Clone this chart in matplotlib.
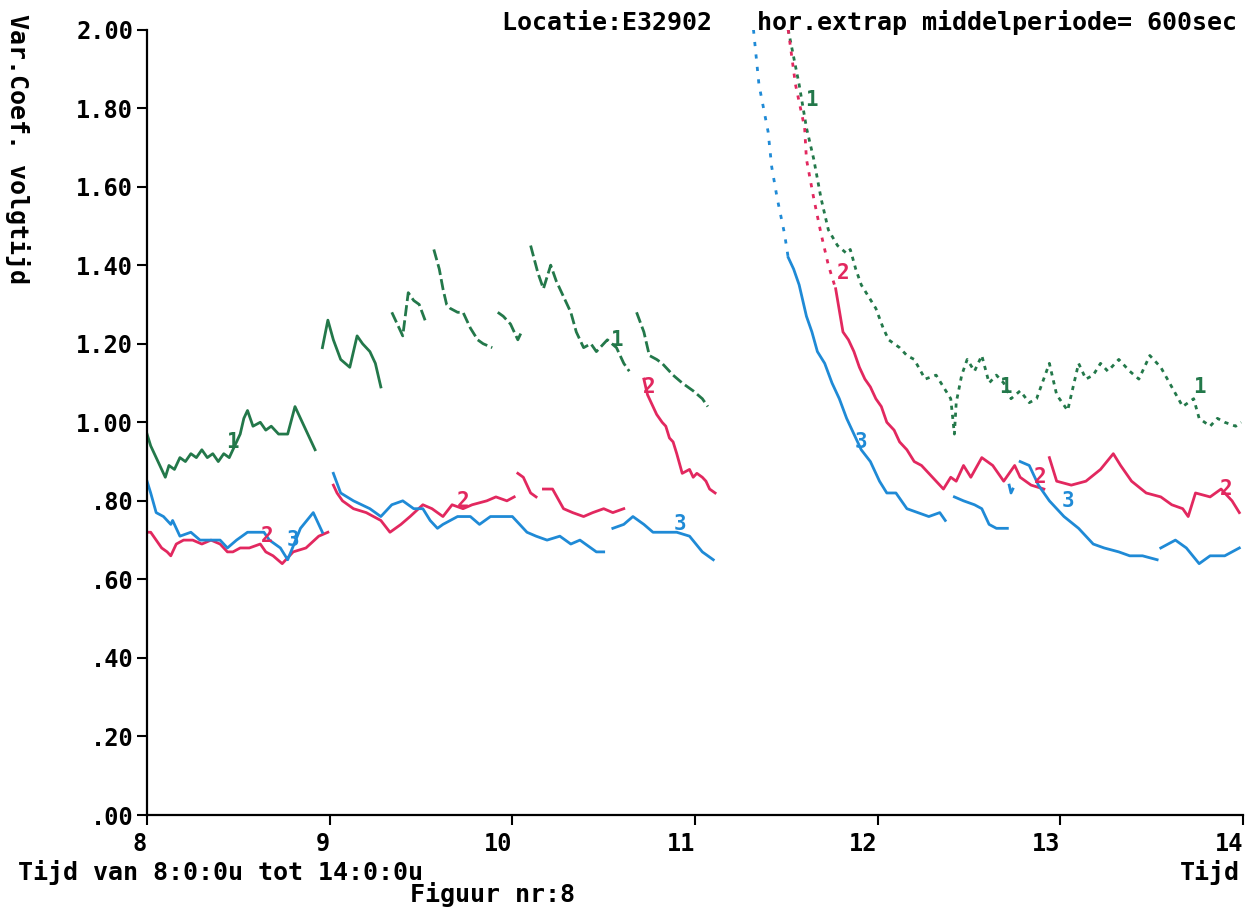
import numpy as np
import matplotlib.pyplot as plt

nan = np.nan

# kleuren van de drie reeksen
groen = "#23784a"
rood = "#e2285f"
blauw = "#1f8ad6"

# ---- reeks 1 (groen), ochtend, getrokken lijn
g1_t = [8.00, 8.02, 8.05, 8.08, 8.10, 8.12, 8.15, 8.18, 8.21, 8.24, 8.27, 8.30, 8.33, 8.36, 8.39,
        8.42, 8.45, 8.47, 8.51, 8.53, 8.55, 8.58, 8.62, 8.65, 8.68, 8.72, 8.77, 8.81, 8.86, 8.92, nan,
        8.96, 8.99, 9.02, 9.06, 9.11, 9.15, 9.18, 9.22, 9.25, 9.28]
g1_v = [0.97, 0.94, 0.91, 0.88, 0.86, 0.89, 0.88, 0.91, 0.90, 0.92, 0.91, 0.93, 0.91, 0.92, 0.90,
        0.92, 0.91, 0.93, 0.97, 1.01, 1.03, 0.99, 1.00, 0.98, 0.99, 0.97, 0.97, 1.04, 0.99, 0.93, nan,
        1.19, 1.26, 1.21, 1.16, 1.14, 1.22, 1.20, 1.18, 1.15, 1.09]
# ---- reeks 1, onderbroken stukken 9.3 - 11.1
g2_t = [9.34, 9.37, 9.40, 9.43, 9.46, 9.49, 9.53, nan,
        9.57, 9.60, 9.62, 9.64, 9.66, 9.70, 9.73, 9.77, 9.81, 9.84, 9.89, nan,
        9.92, 9.95, 9.99, 10.03, 10.05, nan,
        10.10, 10.14, 10.17, 10.21, 10.24, 10.28, 10.32, 10.35, 10.39, 10.43, 10.46, 10.52, 10.57,
        10.61, 10.64, nan,
        10.68, 10.72, 10.75, 10.79, 10.82, 10.88, 10.93, 10.99, 11.04, 11.07]
g2_v = [1.28, 1.25, 1.22, 1.33, 1.31, 1.30, 1.25, nan,
        1.44, 1.39, 1.34, 1.30, 1.29, 1.28, 1.28, 1.24, 1.21, 1.20, 1.19, nan,
        1.28, 1.27, 1.25, 1.21, 1.23, nan,
        1.45, 1.38, 1.34, 1.40, 1.36, 1.32, 1.28, 1.23, 1.19, 1.20, 1.18, 1.21, 1.19,
        1.15, 1.13, nan,
        1.28, 1.23, 1.17, 1.16, 1.15, 1.12, 1.10, 1.08, 1.06, 1.04]
# ---- reeks 1, middag (gestippeld)
g3_t = [11.51, 11.57, 11.61, 11.65, 11.69, 11.73, 11.78, 11.83, 11.85, 11.88, 11.91, 11.95, 11.99,
        12.03, 12.06, 12.12, 12.16, 12.20, 12.26, 12.32, 12.36, 12.40, 12.42, 12.43, 12.46, 12.49,
        12.53, 12.57, 12.61, 12.65, 12.69, 12.73, 12.78, 12.83, 12.87, 12.94, 12.98, 13.04, 13.10,
        13.14, 13.18, 13.22, 13.26, 13.32, 13.38, 13.43, 13.49, 13.55, 13.61, 13.67, 13.73, 13.76,
        13.82, 13.86, 13.90, 13.96, 13.99]
g3_v = [2.00, 1.86, 1.75, 1.67, 1.57, 1.49, 1.45, 1.43, 1.44, 1.39, 1.35, 1.32, 1.29,
        1.24, 1.21, 1.19, 1.17, 1.16, 1.11, 1.12, 1.09, 1.06, 0.97, 1.05, 1.12, 1.16,
        1.13, 1.17, 1.10, 1.12, 1.10, 1.06, 1.08, 1.05, 1.06, 1.15, 1.07, 1.03, 1.15,
        1.11, 1.12, 1.15, 1.13, 1.16, 1.13, 1.11, 1.17, 1.14, 1.09, 1.04, 1.06, 1.01,
        0.99, 1.01, 1.00, 0.99, 1.00]

# ---- reeks 2 (rood)
r1_t = [8.00, 8.02, 8.05, 8.08, 8.11, 8.13, 8.16, 8.20, 8.25, 8.30, 8.35, 8.40, 8.44, 8.47, 8.51,
        8.56, 8.62, 8.65, 8.69, 8.74, 8.80, 8.87, 8.94, 8.99, nan,
        9.02, 9.04, 9.07, 9.13, 9.20, 9.28, 9.33, 9.39, 9.44, 9.51, 9.56, 9.62, 9.67, 9.73, 9.78,
        9.86, 9.91, 9.97, 10.01, nan,
        10.03, 10.06, 10.10, 10.13, nan,
        10.17, 10.22, 10.28, 10.33, 10.39, 10.44, 10.50, 10.55, 10.61, nan,
        10.72, 10.74, 10.75, 10.77, 10.79, 10.82, 10.84, 10.86, 10.88, 10.90, 10.93, 10.97, 10.99,
        11.01, 11.04, 11.06, 11.08, 11.11]
r1_v = [0.72, 0.72, 0.70, 0.68, 0.67, 0.66, 0.69, 0.70, 0.70, 0.69, 0.70, 0.69, 0.67, 0.67, 0.68,
        0.68, 0.69, 0.67, 0.66, 0.64, 0.67, 0.68, 0.71, 0.72, nan,
        0.84, 0.82, 0.80, 0.78, 0.77, 0.75, 0.72, 0.74, 0.76, 0.79, 0.78, 0.76, 0.79, 0.78, 0.79,
        0.80, 0.81, 0.80, 0.81, nan,
        0.87, 0.86, 0.82, 0.81, nan,
        0.83, 0.83, 0.78, 0.77, 0.76, 0.77, 0.78, 0.77, 0.78, nan,
        1.11, 1.07, 1.06, 1.04, 1.02, 1.00, 0.99, 0.96, 0.95, 0.92, 0.87, 0.88, 0.86,
        0.87, 0.86, 0.85, 0.83, 0.82]
r2_t = [11.51, 11.55, 11.60, 11.61, 11.65, 11.69, 11.73, 11.77]
r2_v = [2.00, 1.86, 1.75, 1.67, 1.57, 1.48, 1.40, 1.34]
r3_t = [11.77, 11.81, 11.84, 11.87, 11.90, 11.93, 11.96, 11.99, 12.02, 12.05, 12.09, 12.12, 12.16,
        12.20, 12.24, 12.28, 12.32, 12.36, 12.40, 12.43, 12.47,
        12.51, 12.57, 12.63, 12.69, 12.75, 12.78, 12.84, 12.91, nan,
        12.94, 12.98, 13.06, 13.14, 13.22, 13.29, 13.33, 13.39, 13.47, 13.55, 13.61, 13.67, 13.70,
        13.74, 13.82, 13.88, 13.94, 13.98]
r3_v = [1.34, 1.23, 1.21, 1.18, 1.14, 1.11, 1.09, 1.06, 1.04, 1.00, 0.98, 0.95, 0.93,
        0.90, 0.89, 0.87, 0.85, 0.83, 0.86, 0.85, 0.89,
        0.86, 0.91, 0.89, 0.85, 0.89, 0.86, 0.84, 0.83, nan,
        0.91, 0.85, 0.84, 0.85, 0.88, 0.92, 0.89, 0.85, 0.82, 0.81, 0.79, 0.78, 0.76,
        0.82, 0.81, 0.83, 0.80, 0.77]

# ---- reeks 3 (blauw)
b1_t = [8.00, 8.02, 8.05, 8.09, 8.13, 8.14, 8.18, 8.24, 8.29, 8.34, 8.40, 8.44, 8.49, 8.55, 8.58,
        8.64, 8.67, 8.73, 8.77, 8.84, 8.91, 8.96, nan,
        9.02, 9.06, 9.13, 9.22, 9.28, 9.34, 9.40, 9.46, 9.51, 9.55, 9.59, 9.62, 9.70, 9.77, 9.82,
        9.88, 9.95, 10.00, 10.04, 10.08, 10.13, 10.19, 10.26, 10.32, 10.37, 10.43, 10.46, 10.50, nan,
        10.55, 10.61, 10.66, 10.72, 10.77, 10.82, 10.90, 10.97, 11.04, 11.10]
b1_v = [0.85, 0.82, 0.77, 0.76, 0.74, 0.75, 0.71, 0.72, 0.70, 0.70, 0.70, 0.68, 0.70, 0.72, 0.72,
        0.72, 0.70, 0.68, 0.65, 0.73, 0.77, 0.72, nan,
        0.87, 0.82, 0.80, 0.78, 0.76, 0.79, 0.80, 0.78, 0.78, 0.75, 0.73, 0.74, 0.76, 0.76, 0.74,
        0.76, 0.76, 0.76, 0.74, 0.72, 0.71, 0.70, 0.71, 0.69, 0.70, 0.68, 0.67, 0.67, nan,
        0.73, 0.74, 0.76, 0.74, 0.72, 0.72, 0.72, 0.71, 0.67, 0.65]
b2_t = [11.32, 11.35, 11.40, 11.42, 11.45, 11.49, 11.51]
b2_v = [2.00, 1.86, 1.74, 1.65, 1.57, 1.48, 1.42]
b3_t = [11.51, 11.54, 11.57, 11.61, 11.64, 11.67, 11.71, 11.75, 11.79, 11.83, 11.87, 11.91, 11.96,
        12.01, 12.05, 12.10, 12.16, 12.22, 12.28, 12.34, 12.37, nan,
        12.42, 12.47, 12.53, 12.57, 12.61, 12.65, 12.71, nan,
        12.72, 12.73, 12.74, nan,
        12.78, 12.83, 12.88, 12.94, 13.02, 13.10, 13.18, 13.24, 13.32, 13.38, 13.45, 13.53, nan,
        13.55, 13.63, 13.69, 13.76, 13.82, 13.90, 13.98]
b3_v = [1.42, 1.39, 1.35, 1.27, 1.23, 1.18, 1.15, 1.10, 1.06, 1.01, 0.97, 0.93, 0.90,
        0.85, 0.82, 0.82, 0.78, 0.77, 0.76, 0.77, 0.75, nan,
        0.81, 0.80, 0.79, 0.78, 0.74, 0.73, 0.73, nan,
        0.84, 0.82, 0.83, nan,
        0.90, 0.89, 0.84, 0.80, 0.76, 0.73, 0.69, 0.68, 0.67, 0.66, 0.66, 0.65, nan,
        0.68, 0.70, 0.68, 0.64, 0.66, 0.66, 0.68]

# nummers bij de lijnen
lab_groen = [(8.47, 0.95), (10.57, 1.21), (11.64, 1.82), (12.70, 1.09), (13.76, 1.09)]
lab_rood = [(8.66, 0.71), (9.73, 0.80), (10.75, 1.09), (11.81, 1.38), (12.89, 0.86), (13.91, 0.83)]
lab_blauw = [(8.80, 0.70), (10.92, 0.74), (11.91, 0.95), (13.04, 0.80)]

y_ticks = [0.0, 0.2, 0.4, 0.6, 0.8, 1.0, 1.2, 1.4, 1.6, 1.8, 2.0]
y_labels = [".00", ".20", ".40", ".60", ".80", "1.00", "1.20", "1.40", "1.60", "1.80", "2.00"]
x_ticks = [8, 9, 10, 11, 12, 13, 14]

plt.rcParams["font.family"] = "DejaVu Sans Mono"
plt.rcParams["font.weight"] = "bold"

fig = plt.figure(figsize=(12.6, 9.17), dpi=100)
ax = fig.add_axes([0.1167, 0.1112, 0.8698, 0.8566])

lw = 2.0
ax.plot(g1_t, g1_v, color=groen, lw=lw)
ax.plot(g2_t, g2_v, color=groen, lw=lw, ls=(0, (4, 1.5)))
ax.plot(g3_t, g3_v, color=groen, lw=lw, ls=(0, (1.5, 1.8)))
ax.plot(r1_t, r1_v, color=rood, lw=lw)
ax.plot(r2_t, r2_v, color=rood, lw=lw, ls=(0, (1.5, 2.5)))
ax.plot(r3_t, r3_v, color=rood, lw=lw)
ax.plot(b1_t, b1_v, color=blauw, lw=lw)
ax.plot(b2_t, b2_v, color=blauw, lw=lw, ls=(0, (1.5, 3)))
ax.plot(b3_t, b3_v, color=blauw, lw=lw)

for kleur, lijst, tekst in [(groen, lab_groen, "1"), (rood, lab_rood, "2"), (blauw, lab_blauw, "3")]:
    for t, v in lijst:
        ax.text(t, v, tekst, color=kleur, fontsize=15, ha="center", va="center")

ax.set_xlim(8, 14)
ax.set_ylim(0, 2.0)
ax.set_yticks(y_ticks)
ax.set_yticklabels(y_labels)
ax.set_xticks(x_ticks)
ax.set_xticklabels([str(x) for x in x_ticks], ha="right")
ax.tick_params(axis="both", direction="out", length=7, width=1.5, labelsize=17, pad=3)
ax.tick_params(axis="x", pad=5)
for s in ["top", "right"]:
    ax.spines[s].set_visible(False)
for s in ["left", "bottom"]:
    ax.spines[s].set_linewidth(1.6)

fig.text(0.982, 0.976, "Locatie:E32902   hor.extrap middelperiode= 600sec",
         ha="right", va="center", fontsize=18)
fig.text(0.014, 0.838, "Var.Coef. volgtijd", rotation=270, ha="center", va="center", fontsize=18)
fig.text(0.014, 0.049, "Tijd van 8:0:0u tot 14:0:0u", ha="left", va="center", fontsize=18)
fig.text(0.325, 0.024, "Figuur nr:8", ha="left", va="center", fontsize=18)
fig.text(0.984, 0.049, "Tijd", ha="right", va="center", fontsize=18)

fig.savefig("out.png", dpi=100, facecolor="white")
